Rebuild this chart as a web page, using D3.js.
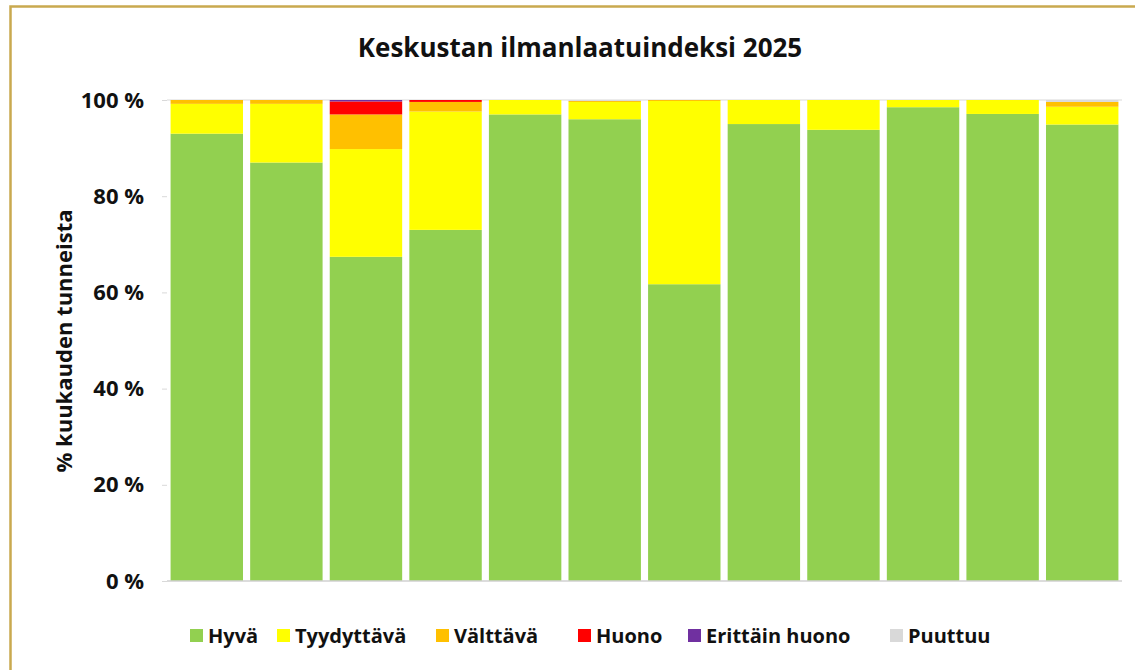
<!DOCTYPE html>
<html>
<head>
<meta charset="utf-8">
<script src="https://cdn.jsdelivr.net/npm/d3@7"></script>
<style>
    body { margin: 0; background: #fff; }
    svg text { font-family: "Open Sans", "Noto Sans", sans-serif; font-weight: bold; fill: #111; }
</style>
</head>
<body>
<div class="gv-chart"></div>
<script>
// months (no labels shown in the original)
var months = ["tammi", "helmi", "maalis", "huhti", "touko", "kesä", "heinä", "elo", "syys", "loka", "marras", "joulu"];
var categories = ["Hyvä", "Tyydyttävä", "Välttävä", "Huono", "Erittäin huono", "Puuttuu"];
var colours = ["#92d050", "#ffff00", "#ffc000", "#ff0000", "#7030a0", "#d9d9d9"];

// % of hours in month
var hyva       = [93.0, 87.0, 67.4, 73.0, 97.0, 96.0, 61.7, 95.0, 93.8, 98.5, 97.1, 94.9];
var tyydyttava = [6.2, 12.2, 22.4, 24.6, 3.0, 3.6, 38.1, 5.0, 6.2, 1.5, 2.9, 3.7];
var valttava   = [0.8, 0.8, 7.2, 2.0, 0.0, 0.2, 0.2, 0.0, 0.0, 0.0, 0.0, 1.0];
var huono      = [0.0, 0.0, 2.7, 0.4, 0.0, 0.0, 0.0, 0.0, 0.0, 0.0, 0.0, 0.0];
var erittain   = [0.0, 0.0, 0.3, 0.0, 0.0, 0.0, 0.0, 0.0, 0.0, 0.0, 0.0, 0.0];
var puuttuu    = [0.0, 0.0, 0.0, 0.0, 0.0, 0.2, 0.0, 0.0, 0.0, 0.0, 0.0, 0.4];
var yTicks = [0, 20, 40, 60, 80, 100];

var series = [hyva, tyydyttava, valttava, huono, erittain, puuttuu];
var rows = months.map((m, i) => {
    var r = { month: m };
    categories.forEach((c, k) => { r[c] = series[k][i]; });
    return r;
});

var width = 1135, height = 670;
var svg = d3.select(".gv-chart").append("svg").attr("width", width).attr("height", height);

// golden frame
svg.append("rect").attr("x", 10.5).attr("y", 6.5).attr("width", 1140).attr("height", 680)
    .attr("fill", "#fff").attr("stroke", "#c9a94f").attr("stroke-width", 2.5);

var x = d3.scaleBand().domain(months).range([167, 1122]).paddingInner(0.09).paddingOuter(0.045);
var y = d3.scaleLinear().domain([0, 100]).range([581, 100]);

var stacked = d3.stack().keys(categories)(rows);

svg.append("line").attr("x1", 167).attr("x2", 1122).attr("y1", y(100)).attr("y2", y(100))
    .attr("stroke", "#d9d9d9").attr("stroke-width", 1);

svg.append("g").selectAll("g")
    .data(stacked)
    .enter()
    .append("g")
    .attr("fill", (d, i) => colours[i])
    .selectAll("rect")
    .data(d => d)
    .enter()
    .append("rect")
    .attr("x", d => x(d.data.month))
    .attr("width", x.bandwidth())
    .attr("y", d => y(d[1]))
    .attr("height", d => y(d[0]) - y(d[1]));

// y axis
var yAxis = svg.append("g").attr("transform", "translate(167,0)")
    .call(d3.axisLeft(y).tickValues(yTicks).tickFormat(d => d + " %").tickSize(5).tickPadding(18));
yAxis.select(".domain").remove();
yAxis.selectAll(".tick line").attr("stroke", "#d9d9d9");
yAxis.selectAll(".tick text").style("font-size", "22px").attr("fill", "#111");

svg.append("line").attr("x1", 167).attr("x2", 1122).attr("y1", y(0)).attr("y2", y(0))
    .attr("stroke", "#d0d0d0").attr("stroke-width", 1.5);

// title and axis title
svg.append("text").attr("x", 580).attr("y", 57).attr("text-anchor", "middle")
    .style("font-size", "26px").text("Keskustan ilmanlaatuindeksi 2025");

svg.append("text").attr("transform", "translate(72,341) rotate(-90)").attr("text-anchor", "middle")
    .style("font-size", "22px").text("% kuukauden tunneista");

// legend
var legendX = [190, 277, 436, 578, 688, 890];
var legend = svg.append("g").selectAll("g")
    .data(categories)
    .enter()
    .append("g")
    .attr("transform", (d, i) => `translate(${legendX[i]},636)`);
legend.append("rect").attr("x", 0).attr("y", -7).attr("width", 13).attr("height", 13)
    .attr("fill", (d, i) => colours[i]);
legend.append("text").attr("x", 18).attr("y", 7).style("font-size", "20px").text(d => d);
</script>
</body>
</html>
